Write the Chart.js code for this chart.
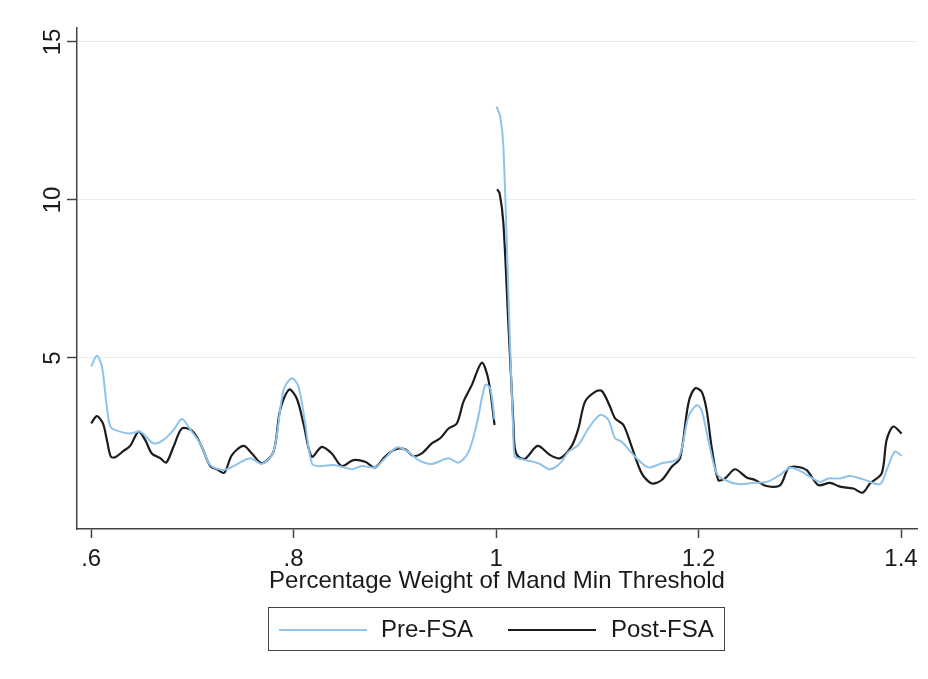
<!DOCTYPE html>
<html>
<head>
<meta charset="utf-8">
<script src="https://cdn.jsdelivr.net/npm/chart.js@4/dist/chart.umd.min.js"></script>
<style>
  html, body { margin: 0; padding: 0; background: #fff; }
  #wrap { position: relative; width: 928px; height: 679px; }
  #c { position: absolute; left: 0; top: 0; }
  .legend {
    position: absolute; left: 268px; top: 607px; width: 455px; height: 42px;
    border: 1px solid #444; box-sizing: content-box;
    font-family: 'Liberation Sans', Arial, sans-serif; font-size: 24px; color: #1a1a1a;
  }
  .legend .ln { position: absolute; top: 21px; height: 0; width: 88px; }
  .legend .tx { position: absolute; top: 7px; line-height: 28px; }
</style>
</head>
<body>
<div id="wrap">
  <canvas id="c" width="928" height="679"></canvas>
  <div class="legend">
    <span class="ln" style="left:10px;border-top:2px solid #8fc3ea"></span>
    <span class="tx" style="left:112px">Pre-FSA</span>
    <span class="ln" style="left:239px;border-top:2.5px solid #1c1c1c"></span>
    <span class="tx" style="left:342px">Post-FSA</span>
  </div>
</div>
<script>
// Valores. null = corte en el umbral (x = 1).
const preX = [0.600, 0.6056, 0.6106, 0.6155, 0.6194, 0.6286, 0.6385, 0.6484, 0.6616, 0.6715,
  0.6813, 0.6896, 0.6978, 0.7077, 0.7176, 0.7307, 0.7406, 0.7571, 0.7686, 0.7801,
  0.7900, 0.7982, 0.8048, 0.8114, 0.8179, 0.8245, 0.8410, 0.8575, 0.8673, 0.8805,
  0.8904, 0.9020, 0.9134, 0.9233, 0.9365, 0.9530, 0.9629, 0.9728, 0.9810, 0.9893,
  0.9942, 0.9985, 1.0,
  1.0005, 1.0040, 1.0072, 1.0131, 1.0170, 1.0187, 1.0253, 1.0418, 1.0533, 1.0632,
  1.0714, 1.0813, 1.0912, 1.1027, 1.1110, 1.1175, 1.1241, 1.1373, 1.1504, 1.1636,
  1.1801, 1.1900, 1.1982, 1.2030, 1.2096, 1.2179, 1.2261, 1.2393, 1.2541, 1.2673,
  1.2805, 1.2903, 1.3002, 1.3101, 1.3200, 1.3282, 1.3397, 1.3496, 1.3628, 1.3793,
  1.3858, 1.3940, 1.4006];
const preY = [4.73, 5.07, 4.73, 3.46, 2.81, 2.67, 2.61, 2.67, 2.30, 2.41,
  2.72, 3.07, 2.74, 2.30, 1.61, 1.46, 1.58, 1.83, 1.65, 2.03,
  3.99, 4.36, 4.09, 2.93, 1.67, 1.58, 1.61, 1.48, 1.58, 1.54,
  1.83, 2.17, 2.03, 1.77, 1.65, 1.83, 1.69, 2.03, 2.93, 4.15,
  4.04, 3.05, null,
  12.95, 12.65, 11.70, 6.10, 2.60, 1.88, 1.80, 1.67, 1.48, 1.67,
  2.03, 2.25, 2.77, 3.20, 3.04, 2.46, 2.35, 1.88, 1.54, 1.67,
  1.83, 3.14, 3.51, 3.35, 2.41, 1.35, 1.14, 1.01, 1.05, 1.08,
  1.30, 1.53, 1.43, 1.24, 1.08, 1.19, 1.19, 1.27, 1.16, 1.01,
  1.45, 2.04, 1.90];

const postX = [0.600, 0.6056, 0.6116, 0.6155, 0.6194, 0.6237, 0.6320, 0.6385, 0.6468, 0.6533,
  0.6599, 0.6682, 0.6741, 0.6813, 0.6896, 0.6995, 0.7077, 0.7176, 0.7242, 0.7315,
  0.7390, 0.7505, 0.7588, 0.7686, 0.7801, 0.7866, 0.7955, 0.8031, 0.8097, 0.8179,
  0.8278, 0.8377, 0.8476, 0.8591, 0.8706, 0.8805, 0.8904, 0.9003, 0.9101, 0.9184,
  0.9266, 0.9365, 0.9448, 0.9530, 0.9612, 0.9678, 0.9761, 0.9859, 0.9925, 0.9985, 1.0,
  1.0010, 1.0035, 1.0072, 1.0121, 1.0171, 1.0185, 1.0220, 1.0286, 1.0411, 1.0533,
  1.0632, 1.0747, 1.0813, 1.0879, 1.0978, 1.1044, 1.1126, 1.1175, 1.1258, 1.1340,
  1.1439, 1.1538, 1.1636, 1.1735, 1.1817, 1.1900, 1.1965, 1.2031, 1.2080, 1.2129,
  1.2195, 1.2261, 1.2360, 1.2475, 1.2558, 1.2673, 1.2805, 1.2887, 1.2969, 1.3068,
  1.3183, 1.3299, 1.3397, 1.3529, 1.3621, 1.3694, 1.3809, 1.3858, 1.3924, 1.4006];
const postY = [2.93, 3.16, 2.93, 2.41, 1.88, 1.86, 2.06, 2.22, 2.67, 2.41,
  1.98, 1.83, 1.69, 2.19, 2.77, 2.70, 2.30, 1.58, 1.48, 1.37,
  1.93, 2.22, 1.98, 1.67, 2.03, 3.35, 4.00, 3.72, 2.93, 1.88,
  2.19, 1.98, 1.58, 1.77, 1.72, 1.54, 1.88, 2.11, 2.11, 1.90,
  1.98, 2.30, 2.46, 2.77, 2.93, 3.62, 4.15, 4.85, 4.30, 2.88, null,
  10.34, 10.21, 9.27, 6.10, 2.94, 2.15, 1.88, 1.81, 2.22, 1.93,
  1.83, 2.22, 2.77, 3.62, 3.93, 3.96, 3.46, 3.09, 2.88, 2.19,
  1.35, 1.03, 1.14, 1.56, 1.83, 3.57, 4.04, 3.93, 3.35, 2.19,
  1.14, 1.19, 1.48, 1.22, 1.14, 0.95, 0.97, 1.51, 1.56, 1.45,
  0.98, 1.05, 0.93, 0.87, 0.74, 1.03, 1.35, 2.41, 2.83, 2.61];

const xTicks = [0.6, 0.8, 1.0, 1.2, 1.4];
const yTicks = [5, 10, 15];

const FONT = { family: "'Liberation Sans', Arial, sans-serif", size: 24 };
const COLOR_AXIS = '#444';
const COLOR_TEXT = '#1a1a1a';

const toPoints = (xs, ys) => xs.map((x, i) => ({ x, y: ys[i] }));
const fmtX = (v) => String(Math.round(v * 10) / 10).replace(/^0\./, '.');

new Chart(document.getElementById('c'), {
  type: 'line',
  data: {
    datasets: [
      {
        label: 'Pre-FSA',
        data: toPoints(preX, preY),
        borderColor: '#8fc3ea',
        borderWidth: 2,
        pointRadius: 0,
        tension: 0.3,
        spanGaps: false,
      },
      {
        label: 'Post-FSA',
        data: toPoints(postX, postY),
        borderColor: '#1c1c1c',
        borderWidth: 2.2,
        pointRadius: 0,
        tension: 0.3,
        spanGaps: false,
      },
    ],
  },
  options: {
    responsive: false,
    animation: false,
    layout: { padding: { left: 0, top: 28, right: 11, bottom: 80 } },
    plugins: { legend: { display: false }, tooltip: { enabled: false } },
    scales: {
      x: {
        type: 'linear',
        min: 0.586,
        max: 1.4158,
        afterBuildTicks: (s) => { s.ticks = xTicks.map((v) => ({ value: v })); },
        afterFit: (s) => { s.height = 70; },
        grid: { display: true, drawOnChartArea: false, drawTicks: true, tickLength: 9, tickColor: COLOR_AXIS, tickWidth: 1.5 },
        border: { display: true, color: COLOR_AXIS, width: 1.5 },
        ticks: { color: COLOR_TEXT, font: FONT, padding: 7, maxRotation: 0, callback: fmtX },
        title: {
          display: true,
          text: 'Percentage Weight of Mand Min Threshold',
          color: COLOR_TEXT,
          font: FONT,
          padding: { top: 0, bottom: 3 },
        },
      },
      y: {
        type: 'linear',
        min: -0.41,
        max: 15.44,
        afterBuildTicks: (s) => { s.ticks = yTicks.map((v) => ({ value: v })); },
        afterFit: (s) => { s.width = 77; },
        grid: { color: '#e5eef0', lineWidth: 1, drawTicks: true, tickLength: 10, tickColor: COLOR_AXIS, tickWidth: 1.5 },
        border: { display: true, color: COLOR_AXIS, width: 1.5 },
        ticks: { color: COLOR_TEXT, font: FONT, padding: 0, minRotation: 90, maxRotation: 90, crossAlign: 'center' },
      },
    },
  },
});
</script>
</body>
</html>
